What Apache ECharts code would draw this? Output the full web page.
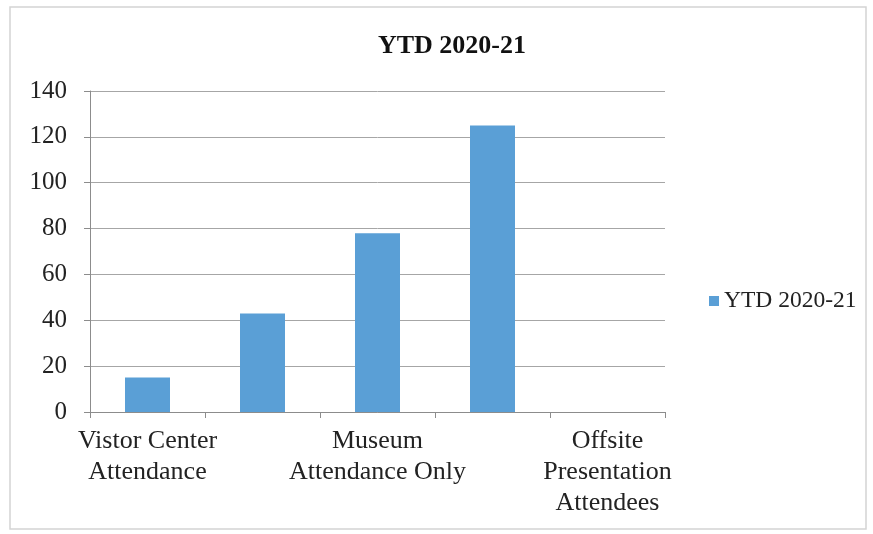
<!DOCTYPE html>
<html>
<head>
<meta charset="utf-8">
<script src="https://cdn.jsdelivr.net/npm/echarts@6/dist/echarts.min.js"></script>
<style>
  html, body { margin: 0; padding: 0; background: #fff; }
  #chart { width: 873px; height: 534px; }
</style>
</head>
<body>
<div id="chart"></div>
<script>
// Attendance categories (the 2nd and 4th names are not printed on the axis)
const categories = [
  'Vistor Center\nAttendance',
  '',
  'Museum\nAttendance Only',
  '',
  'Offsite\nPresentation\nAttendees'
];
const seriesName = 'YTD 2020-21';
const values = [15, 43, 78, 125, 0];
const yTicks = { min: 0, max: 140, interval: 20 };

const font = 'Liberation Serif, Times New Roman, serif';
const chart = echarts.init(document.getElementById('chart'));

chart.setOption({
  backgroundColor: '#ffffff',
  animation: false,
  textStyle: { fontFamily: font },
  graphic: [{
    type: 'rect',
    shape: { x: 10, y: 7, width: 856, height: 522 },
    style: { fill: 'none', stroke: '#d4d4d4', lineWidth: 1.5 },
    silent: true
  }],
  title: {
    text: seriesName,
    left: 447,
    textAlign: 'center',
    top: 28,
    textStyle: { fontFamily: font, fontSize: 26, fontWeight: 'bold', color: '#111' }
  },
  legend: {
    data: [seriesName],
    left: 704,
    top: 284,
    icon: 'rect',
    itemWidth: 10,
    itemHeight: 10,
    itemGap: 6,
    textStyle: { fontFamily: font, fontSize: 23.5, color: '#222' }
  },
  grid: { left: 90, right: 208, top: 91, bottom: 122, containLabel: false },
  xAxis: {
    type: 'category',
    data: categories,
    axisLine: { lineStyle: { color: '#8c8c8c', width: 1 } },
    axisTick: { show: true, length: 6, interval: 0, lineStyle: { color: '#8c8c8c' } },
    axisLabel: {
      interval: 1,
      margin: 14,
      fontFamily: font,
      fontSize: 26,
      lineHeight: 31,
      color: '#222'
    }
  },
  yAxis: {
    type: 'value',
    min: yTicks.min,
    max: yTicks.max,
    interval: yTicks.interval,
    axisLine: { show: true, lineStyle: { color: '#8c8c8c', width: 1 } },
    axisTick: { show: true, length: 6, lineStyle: { color: '#8c8c8c' } },
    axisLabel: { margin: 23, fontFamily: font, fontSize: 25, color: '#222' },
    splitLine: { lineStyle: { color: '#a6a6a6', width: 1 } }
  },
  series: [{
    name: seriesName,
    type: 'bar',
    data: values,
    barWidth: 45,
    itemStyle: { color: '#5a9fd6' }
  }]
});
</script>
</body>
</html>
